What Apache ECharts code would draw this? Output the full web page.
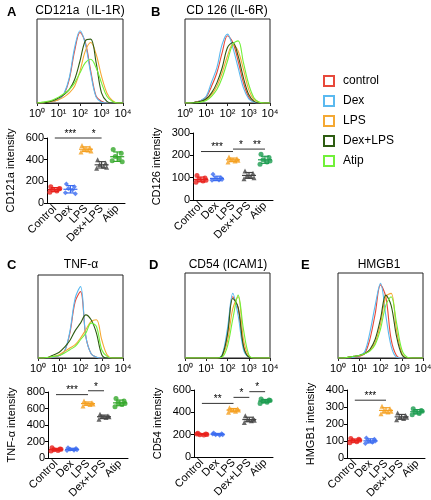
<!DOCTYPE html>
<html><head><meta charset="utf-8">
<script src="https://cdn.jsdelivr.net/npm/echarts@6/dist/echarts.min.js"></script>
<style>html,body{margin:0;padding:0;background:#fff}#c{width:431px;height:500px}</style>
</head><body><div id="c"></div>
<script>
// ---------- data ----------
const groups = ['Control','Dex','LPS','Dex+LPS','Atip'];
const legendNames = ['control','Dex','LPS','Dex+LPS','Atip'];
const histTicks = ['10⁰','10¹','10²','10³','10⁴'];
const histX = [0,0.25,0.5,0.75,1,1.25,1.5,1.75,2,2.25,2.5,2.75,3,3.25,3.5,3.75,4];

// histogram curves (order: control, Dex, LPS, Dex+LPS, Atip), % of max
const histA = [
  [0,0,1,2,4,10,28,62,84,72,38,8,2,0,0,0,0],
  [0,0,1,2,4,11,30,66,86,70,35,7,1,0,0,0,0],
  [0,0,1,2,4,7,12,20,38,62,72,58,32,12,3,0,0],
  [0,0,1,3,6,10,16,28,50,74,76,48,12,2,0,0,0],
  [0,1,2,4,7,11,16,24,36,48,52,42,24,8,2,0,0]
];
const histB = [
  [0,0,1,3,7,20,36,60,80,72,50,24,7,1,0,0,0],
  [0,0,1,3,8,25,42,70,82,66,42,18,5,1,0,0,0],
  [0,0,1,2,4,10,20,36,56,70,62,40,16,4,1,0,0],
  [0,0,1,2,5,12,24,42,66,72,56,30,10,2,0,0,0],
  [0,0,0,1,3,8,16,30,50,70,74,48,22,6,1,0,0]
];
const histC = [
  [0,0,0,1,3,8,30,68,80,26,5,1,0,0,0,0,0],
  [0,0,0,1,3,8,32,72,86,26,5,1,0,0,0,0,0],
  [0,0,1,2,4,8,12,16,24,34,44,46,22,4,0,0,0],
  [0,0,1,4,7,13,21,33,42,52,46,30,4,0,0,0,0],
  [0,0,1,2,3,6,10,14,22,30,42,38,10,2,0,0,0]
];
const histD = [
  [0,0,0,0,0,0,0,3,30,72,58,14,1,0,0,0,0],
  [0,0,0,0,0,0,0,4,35,76,50,10,1,0,0,0,0],
  [0,0,0,0,0,0,0,2,20,58,72,22,2,0,0,0,0],
  [0,0,0,0,0,0,0,3,28,70,60,14,1,0,0,0,0],
  [0,0,0,0,0,0,0,1,14,46,74,34,4,0,0,0,0]
];
const histE = [
  [0,0,0,1,2,5,22,52,86,72,22,3,0,0,0,0,0],
  [0,0,0,1,3,7,30,62,88,50,14,1,0,0,0,0,0],
  [0,0,1,2,3,5,9,18,40,72,76,34,6,0,0,0,0],
  [0,0,1,2,3,5,10,22,46,74,62,26,4,0,0,0,0],
  [0,0,1,2,3,5,8,16,34,62,72,42,10,1,0,0,0]
];

// intensity points per group (Control, Dex, LPS, Dex+LPS, Atip)
const ptsA = [[150,130,120,110,100,135],[175,150,135,120,95,85],[530,510,500,490,470,480],[400,370,355,340,320,330],[495,460,430,410,390,380]];
const ptsB = [[110,98,92,85,80,88],[115,100,95,90,88,92],[192,185,180,175,170,178],[130,120,110,105,95,100],[205,190,180,170,160,175]];
const ptsC = [[125,110,100,90,85,105],[125,115,105,95,90,100],[690,670,660,650,630,655],[530,510,500,490,470,500],[720,690,670,650,620,660]];
const ptsD = [[212,205,200,198,205,202],[215,208,200,195,205,200],[440,430,420,410,400,420],[370,345,335,325,310,330],[520,510,500,490,480,505]];
const ptsE = [[115,110,100,95,90,105],[118,110,100,92,85,100],[305,290,280,270,260,275],[265,250,240,232,225,240],[290,280,270,262,255,275]];

// significance bars: [fromGroup, toGroup, level]
const sigA = [[0,2,600],[2,3,600]];
const sigAText = ['***','*'];
const sigB = [[0,2,217],[2,3,228],[3,4,228]];
const sigBText = ['***','*','**'];
const sigC = [[0,2,768],[2,3,815]];
const sigCText = ['***','*'];
const sigD = [[0,2,480],[2,3,534],[3,4,585]];
const sigDText = ['**','*','*'];
const sigE = [[0,2,340]];
const sigEText = ['***'];

// ---------- style ----------
const FONT = 'Liberation Sans, Arial, Helvetica, sans-serif';
const histColors = ['#e8493a','#5ab9f0','#f5a833','#2e5c12','#72f03a'];
const ptColorsAC = ['#e8201c','#3b6bf0','#f5a020','#444444','#34a82a'];
const ptColorsBDE = ['#e8201c','#3b6bf0','#f5a020','#444444','#1c9c50'];
const ptSymbols = ['circle','diamond','triangle','triangle','circle'];
const jitter = [-4,4,-2,2,-5,5];

const panels = [
  {hist:histA, pts:ptsA, sig:sigA, sigT:sigAText, yMax:600, yInt:200, yName:'CD121a intensity', colors:ptColorsAC,
   hg:{left:37,top:19,width:86,height:84}, sg:{left:47,top:138,width:78,height:65}},
  {hist:histB, pts:ptsB, sig:sigB, sigT:sigBText, yMax:300, yInt:100, yName:'CD126 intensity', colors:ptColorsBDE,
   hg:{left:185,top:19,width:85,height:84}, sg:{left:193,top:133,width:80,height:67}},
  {hist:histC, pts:ptsC, sig:sigC, sigT:sigCText, yMax:800, yInt:200, yName:'TNF-α intensity', colors:ptColorsAC,
   hg:{left:38,top:275,width:85,height:83}, sg:{left:48,top:392,width:80,height:66}},
  {hist:histD, pts:ptsD, sig:sigD, sigT:sigDText, yMax:600, yInt:200, yName:'CD54 intensity', colors:ptColorsBDE,
   hg:{left:185,top:273,width:85,height:85}, sg:{left:194,top:390,width:79,height:67}},
  {hist:histE, pts:ptsE, sig:sigE, sigT:sigEText, yMax:400, yInt:100, yName:'HMGB1 intensity', colors:ptColorsBDE,
   hg:{left:338,top:273,width:85,height:85}, sg:{left:347,top:390,width:78,height:68}}
];

function meanSd(a){
  const m = a.reduce((s,v)=>s+v,0)/a.length;
  const sd = Math.sqrt(a.reduce((s,v)=>s+(v-m)*(v-m),0)/(a.length-1));
  return [m, sd];
}

const grid=[], xAxis=[], yAxis=[], series=[];
panels.forEach((p,k)=>{
  const hi = 2*k, si = 2*k+1;
  grid.push(Object.assign({show:true, borderColor:'#222', borderWidth:1, backgroundColor:'transparent', outerBoundsMode:'none'}, p.hg));
  grid.push(Object.assign({outerBoundsMode:'none'}, p.sg));
  xAxis.push({gridIndex:hi, type:'value', min:0, max:4, interval:1,
    axisLine:{show:true, lineStyle:{color:'#222'}}, axisTick:{show:true, length:3, lineStyle:{color:'#222'}},
    axisLabel:{formatter:v=>histTicks[Math.round(v)], fontSize:11, color:'#000', margin:5, fontFamily:FONT, hideOverlap:false},
    splitLine:{show:false}});
  yAxis.push({gridIndex:hi, type:'value', min:0, max:100, show:false});
  xAxis.push({gridIndex:si, type:'category', data:groups, boundaryGap:true,
    axisLine:{show:true, lineStyle:{color:'#000'}}, axisTick:{show:false},
    axisLabel:{rotate:45, interval:0, fontSize:11, color:'#000', margin:4, fontFamily:FONT}});
  yAxis.push({gridIndex:si, type:'value', min:0, max:p.yMax, interval:p.yInt,
    name:p.yName, nameLocation:'middle', nameGap:31, nameRotate:90,
    nameTextStyle:{fontSize:11, color:'#000', fontFamily:FONT},
    axisLine:{show:true, lineStyle:{color:'#000'}}, axisTick:{show:true, length:3, lineStyle:{color:'#000'}},
    axisLabel:{fontSize:11, color:'#000', margin:3, fontFamily:FONT}, splitLine:{show:false}});

  // histogram curves
  p.hist.forEach((arr,g)=>{
    series.push({type:'line', name:legendNames[g], xAxisIndex:hi, yAxisIndex:hi,
      data:histX.map((x,i)=>[x, arr[i]]), smooth:0.35, showSymbol:false, symbol:'none', silent:true,
      lineStyle:{width:1.1, color:histColors[g]}, itemStyle:{color:histColors[g]}});
  });
  // points
  p.pts.forEach((arr,g)=>{
    series.push({type:'scatter', name:'pts '+groups[g], xAxisIndex:si, yAxisIndex:si,
      symbol:ptSymbols[g], symbolSize:5, itemStyle:{color:p.colors[g]}, silent:true,
      data:arr.map((v,j)=>({value:[g,v], symbolOffset:[jitter[j],0]}))});
  });
  // mean ± SD
  const stats = p.pts.map((arr,g)=>{const [m,sd]=meanSd(arr); return [g,m,sd];});
  series.push({type:'custom', xAxisIndex:si, yAxisIndex:si, silent:true, data:stats,
    renderItem:(params, api)=>{
      const x=api.value(0), m=api.value(1), s=api.value(2);
      const c = p.colors[params.dataIndex];
      const pm=api.coord([x,m]), pt=api.coord([x,m+s]), pb=api.coord([x,m-s]);
      const st={stroke:c, lineWidth:1.2};
      return {type:'group', children:[
        {type:'line', shape:{x1:pm[0]-7,y1:pm[1],x2:pm[0]+7,y2:pm[1]}, style:st},
        {type:'line', shape:{x1:pt[0],y1:pt[1],x2:pb[0],y2:pb[1]}, style:st},
        {type:'line', shape:{x1:pt[0]-4,y1:pt[1],x2:pt[0]+4,y2:pt[1]}, style:st},
        {type:'line', shape:{x1:pb[0]-4,y1:pb[1],x2:pb[0]+4,y2:pb[1]}, style:st}
      ]};
    }});
  // significance
  series.push({type:'custom', xAxisIndex:si, yAxisIndex:si, silent:true, clip:false, data:p.sig,
    renderItem:(params, api)=>{
      const a=api.coord([api.value(0), api.value(2)]), b=api.coord([api.value(1), api.value(2)]);
      return {type:'group', children:[
        {type:'line', shape:{x1:a[0],y1:a[1],x2:b[0],y2:b[1]}, style:{stroke:'#333', lineWidth:1}},
        {type:'text', style:{text:p.sigT[params.dataIndex], x:(a[0]+b[0])/2, y:a[1]+1, align:'center', verticalAlign:'bottom',
          fontSize:10, fontFamily:FONT, fill:'#000'}}
      ]};
    }});
});

const titleStyle = {fontSize:12, fontWeight:'normal', color:'#000', fontFamily:FONT};
const letterStyle = {fontSize:13, fontWeight:'bold', color:'#000', fontFamily:FONT};
const option = {
  animation:false,
  backgroundColor:'#fff',
  title:[
    {text:'A', left:7, top:6, padding:0, textStyle:letterStyle},
    {text:'CD121a（IL-1R)', left:80, top:5, padding:0, textAlign:'center', textStyle:titleStyle},
    {text:'B', left:151, top:6, padding:0, textStyle:letterStyle},
    {text:'CD 126 (IL-6R)', left:227, top:5, padding:0, textAlign:'center', textStyle:titleStyle},
    {text:'C', left:7, top:259, padding:0, textStyle:letterStyle},
    {text:'TNF-α', left:81, top:259, padding:0, textAlign:'center', textStyle:titleStyle},
    {text:'D', left:149, top:259, padding:0, textStyle:letterStyle},
    {text:'CD54 (ICAM1)', left:228, top:259, padding:0, textAlign:'center', textStyle:titleStyle},
    {text:'E', left:301, top:259, padding:0, textStyle:letterStyle},
    {text:'HMGB1', left:379, top:259, padding:0, textAlign:'center', textStyle:titleStyle}
  ],
  legend:{
    data:legendNames.map((n,g)=>({name:n, icon:'rect',
      itemStyle:{color:'#ffffff', borderColor:histColors[g], borderWidth:2}})),
    orient:'vertical', left:323, top:75, padding:0, itemWidth:10, itemHeight:10, itemGap:8,
    icon:'rect', selectedMode:false,
    textStyle:{fontSize:12, color:'#000', fontFamily:FONT, padding:[0,0,0,4]}},
  grid, xAxis, yAxis, series
};
const chart = echarts.init(document.getElementById('c'), null, {renderer:'canvas'});
chart.setOption(option);
</script></body></html>
